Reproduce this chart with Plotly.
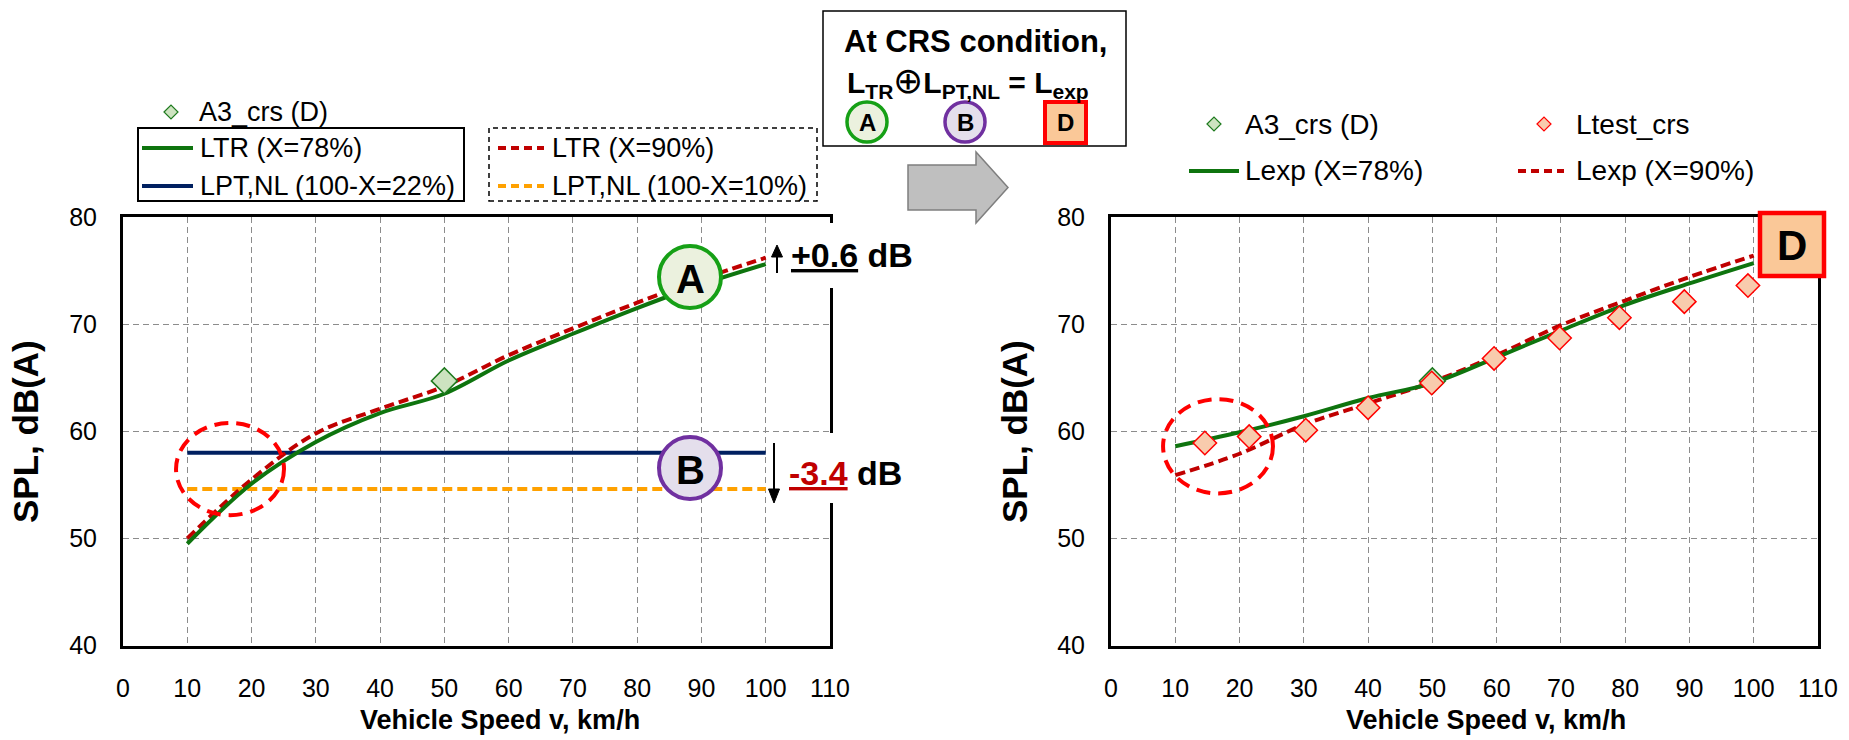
import plotly.graph_objects as go

# ---------------- data ----------------
speed = [10, 20, 30, 40, 50, 60, 70, 80, 90, 100]
ltr_78 = [49.5, 55.1, 59.0, 61.7, 63.5, 66.6, 69.1, 71.5, 73.7, 75.6]
ltr_90 = [50.0, 55.5, 59.8, 62.1, 64.2, 67.1, 69.6, 72.0, 74.2, 76.2]
lpt_speed = [10, 100]
lpt_22 = [58.0, 58.0]
lpt_10 = [54.6, 54.6]
a3_speed = [50]
a3_crs = [64.7]
lexp_78 = [58.6, 59.9, 61.4, 63.1, 64.5, 66.9, 69.4, 71.8, 73.8, 75.7]
lexp_90 = [55.9, 57.9, 60.6, 62.6, 64.6, 67.1, 69.9, 72.2, 74.4, 76.4]
test_speed = [14.6, 21.5, 30.3, 40.0, 49.9, 59.6, 69.8, 79.1, 89.2, 99.1]
ltest_crs = [58.9, 59.5, 60.1, 62.2, 64.5, 66.8, 68.7, 70.6, 72.1, 73.6]
x_ticks = [0, 10, 20, 30, 40, 50, 60, 70, 80, 90, 100, 110]
y_ticks = [40, 50, 60, 70, 80]

W, H = 1849, 740
FONT = "Liberation Sans, Arial, sans-serif"
GREEN = "#0E740E"
DRED = "#C00000"
NAVY = "#002060"
ORANGE = "#FFA100"

def X(p):
    return p / W

def Y(p):
    return 1 - p / H

fig = go.Figure()

# left panel
fig.add_trace(go.Scatter(x=lpt_speed, y=lpt_22, mode="lines", line=dict(color=NAVY, width=4), xaxis="x", yaxis="y"))
fig.add_trace(go.Scatter(x=lpt_speed, y=lpt_10, mode="lines", line=dict(color=ORANGE, width=4, dash="10px,5px"), xaxis="x", yaxis="y"))
fig.add_trace(go.Scatter(x=speed, y=ltr_90, mode="lines", line=dict(color=DRED, width=4, dash="10px,5px", shape="spline"), xaxis="x", yaxis="y"))
fig.add_trace(go.Scatter(x=speed, y=ltr_78, mode="lines", line=dict(color=GREEN, width=4, shape="spline"), xaxis="x", yaxis="y"))
fig.add_trace(go.Scatter(x=a3_speed, y=a3_crs, mode="markers",
                         marker=dict(symbol="diamond", size=20, color="#CDE3C0", line=dict(color="#1E7A1E", width=1.5)),
                         xaxis="x", yaxis="y"))
# right panel
fig.add_trace(go.Scatter(x=speed, y=lexp_90, mode="lines", line=dict(color=DRED, width=4, dash="10px,5px", shape="spline"), xaxis="x2", yaxis="y2"))
fig.add_trace(go.Scatter(x=speed, y=lexp_78, mode="lines", line=dict(color=GREEN, width=4, shape="spline"), xaxis="x2", yaxis="y2"))
fig.add_trace(go.Scatter(x=a3_speed, y=a3_crs, mode="markers",
                         marker=dict(symbol="diamond", size=20, color="#CDE3C0", line=dict(color="#1E7A1E", width=1.5)),
                         xaxis="x2", yaxis="y2"))
fig.add_trace(go.Scatter(x=test_speed, y=ltest_crs, mode="markers",
                         marker=dict(symbol="diamond", size=18, color="#F8CBAD", line=dict(color="#FF0000", width=1.5)),
                         xaxis="x2", yaxis="y2"))

ydom = [Y(645.5), Y(217)]
axis_common = dict(showline=True, mirror=True, linecolor="black", linewidth=3,
                   showgrid=True, gridcolor="#8C8C8C", griddash="6px,4px", gridwidth=1.3,
                   zeroline=False, ticks="", ticklabelstandoff=18, automargin=False,
                   tickfont=dict(family=FONT, size=25, color="black"))
fig.update_layout(
    xaxis=dict(domain=[X(123), X(830)], range=[0, 110], tickvals=x_ticks, anchor="y", **axis_common),
    yaxis=dict(domain=ydom, range=[40, 80], tickvals=y_ticks, anchor="x", **axis_common),
    xaxis2=dict(domain=[X(1111), X(1818)], range=[0, 110], tickvals=x_ticks, anchor="y2", **axis_common),
    yaxis2=dict(domain=ydom, range=[40, 80], tickvals=y_ticks, anchor="x2", **axis_common),
)

shapes = []
annots = []

def rect(x0, y0, x1, y1, fill="rgba(0,0,0,0)", lc="black", lw=1.5, dash="solid"):
    shapes.append(dict(type="rect", xref="paper", yref="paper", x0=X(x0), x1=X(x1), y0=Y(y1), y1=Y(y0),
                       fillcolor=fill, line=dict(color=lc, width=lw, dash=dash), layer="above"))

def hline(x0, x1, y, color, width, dash="solid"):
    shapes.append(dict(type="line", xref="paper", yref="paper", x0=X(x0), x1=X(x1), y0=Y(y), y1=Y(y),
                       line=dict(color=color, width=width, dash=dash), layer="above"))

def vline(x, y0, y1, color, width):
    shapes.append(dict(type="line", xref="paper", yref="paper", x0=X(x), x1=X(x), y0=Y(y0), y1=Y(y1),
                       line=dict(color=color, width=width), layer="above"))

def poly(pts, fill, lc, lw):
    path = "M" + " L".join(f"{X(a)},{Y(b)}" for a, b in pts) + " Z"
    shapes.append(dict(type="path", xref="paper", yref="paper", path=path, fillcolor=fill,
                       line=dict(color=lc, width=lw), layer="above"))

def circ(cx, cy, r, fill, lc, lw):
    shapes.append(dict(type="circle", xref="paper", yref="paper", x0=X(cx - r), x1=X(cx + r), y0=Y(cy + r), y1=Y(cy - r),
                       fillcolor=fill, line=dict(color=lc, width=lw), layer="above"))

def diamond(cx, cy, h, fill, lc):
    poly([(cx - h, cy), (cx, cy - h), (cx + h, cy), (cx, cy + h)], fill, lc, 1.2)

def note(x, y, text, size, color="black", xanchor="left", angle=0):
    annots.append(dict(x=X(x), y=Y(y), xref="paper", yref="paper", text=text, showarrow=False,
                       xanchor=xanchor, yanchor="middle", textangle=angle, borderpad=0,
                       font=dict(family=FONT, size=size, color=color)))

# ---------------- left legend ----------------
diamond(171, 112, 7, "#CDE3C0", "#1E7A1E")
note(198, 112, "A3_crs (D)", 27)
rect(138, 128, 464, 201, lc="black", lw=2)
hline(142, 193, 148, GREEN, 4)
note(199, 148, "LTR (X=78%)", 27)
hline(142, 193, 186, NAVY, 4)
note(199, 186, "LPT,NL (100-X=22%)", 27)
rect(489, 128, 817, 201, lc="black", lw=1.5, dash="5px,4px")
hline(498, 544, 148, DRED, 4, "8px,5px")
note(551, 148, "LTR (X=90%)", 27)
hline(498, 544, 186, ORANGE, 4, "8px,5px")
note(551, 186, "LPT,NL (100-X=10%)", 27)

# ---------------- right legend ----------------
diamond(1214, 124, 7, "#CDE3C0", "#1E7A1E")
note(1244, 124, "A3_crs (D)", 28)
diamond(1544, 124, 7, "#F8CBAD", "#FF0000")
note(1575, 124, "Ltest_crs", 28)
hline(1189, 1239, 171, GREEN, 4)
note(1244, 171, "Lexp (X=78%)", 28)
hline(1518, 1564, 171, DRED, 4, "8px,5px")
note(1575, 171, "Lexp (X=90%)", 28)

# ---------------- top centre box ----------------
rect(823, 11, 1126, 146, fill="white", lc="black", lw=1.5)
note(975, 42, "<b>At CRS condition,</b>", 31, xanchor="center")
note(968, 82, "<b>L<sub>TR</sub></b><span style='font-size:36px'>⊕</span><b>L<sub>PT,NL</sub> = L<sub>exp</sub></b>",
     30, xanchor="center")
circ(867, 122, 20, "#EBF1DE", "#16A016", 3.5)
note(867, 123, "<b>A</b>", 24, xanchor="center")
circ(965, 122, 20, "#E4DFEC", "#7030A0", 3.5)
note(965, 123, "<b>B</b>", 24, xanchor="center")
rect(1045, 102, 1086, 143, fill="#FAC898", lc="#FF0000", lw=4)
note(1065.5, 123, "<b>D</b>", 24, xanchor="center")

# ---------------- grey block arrow ----------------
poly([(908, 165), (976, 165), (976, 152), (1008, 187.5), (976, 223), (976, 210), (908, 210)],
     "#BFBFBF", "#7F7F7F", 1.5)

# ---------------- left panel annotations ----------------
shapes.append(dict(type="circle", xref="x", yref="y", x0=8.25, x1=25.05, y0=52.17, y1=60.77,
                   line=dict(color="#FF0000", width=4, dash="14px,8px"), layer="above"))
rect(823, 223, 840, 288, fill="white", lc="white", lw=0)
rect(823, 433, 840, 503, fill="white", lc="white", lw=0)
circ(690, 277, 31, "#EBF1DE", "#16A016", 4)
note(690, 279, "<b>A</b>", 40, xanchor="center")
circ(690, 468, 31, "#E4DFEC", "#7030A0", 4)
note(690, 470, "<b>B</b>", 40, xanchor="center")
# up arrow
vline(777, 273, 255, "black", 2)
poly([(771.5, 257), (782.5, 257), (777, 245)], "black", "black", 1)
# down arrow
vline(774, 443, 491, "black", 2)
poly([(768.5, 489), (779.5, 489), (774, 503)], "black", "black", 1)
note(790, 255, "<b><u>+0.6</u> dB</b>", 34)
note(788, 473, "<b><span style='color:#C00000'><u>-3.4</u></span> dB</b>", 34)

# ---------------- right panel annotations ----------------
shapes.append(dict(type="circle", xref="x2", yref="y2", x0=8.1, x1=25.2, y0=54.2, y1=63.0,
                   line=dict(color="#FF0000", width=4, dash="14px,8px"), layer="above"))
rect(1760, 213, 1824, 276, fill="#FAC898", lc="#FF0000", lw=4.5)
note(1792, 245, "<b>D</b>", 42, xanchor="center")

# ---------------- axis titles ----------------
note(500, 720, "<b>Vehicle Speed v, km/h</b>", 27, xanchor="center")
note(1486, 720, "<b>Vehicle Speed v, km/h</b>", 27, xanchor="center")
note(25, 432, "<b>SPL, dB(A)</b>", 35, xanchor="center", angle=-90)
note(1014, 432, "<b>SPL, dB(A)</b>", 35, xanchor="center", angle=-90)

fig.update_layout(width=W, height=H, margin=dict(l=0, r=0, t=0, b=0, pad=0, autoexpand=False),
                  paper_bgcolor="white", plot_bgcolor="white", showlegend=False,
                  shapes=shapes, annotations=annots, font=dict(family=FONT, color="black"))

fig.write_html("out.html", config={"displayModeBar": False},
               post_script="document.documentElement.style.margin='0';document.body.style.margin='0';"
                           "document.body.style.padding='0';document.body.style.overflow='hidden';")
